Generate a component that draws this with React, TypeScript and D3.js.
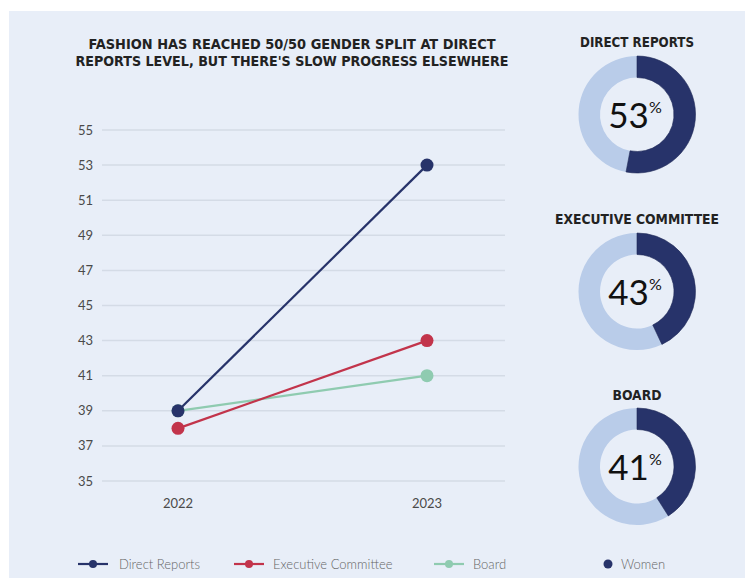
import React from "react";
import * as d3 from "d3";

const years = ["2022", "2023"];
const directReports = [39, 53];
const executiveCommittee = [38, 43];
const board = [39, 41];
const yTicks = [35, 37, 39, 41, 43, 45, 47, 49, 51, 53, 55];
const donutLabels = ["DIRECT REPORTS", "EXECUTIVE COMMITTEE", "BOARD"];
const donutValues = [53, 43, 41];
const legendLabels = ["Direct Reports", "Executive Committee", "Board", "Women"];

const W = 746;
const H = 578;
const NAVY = "#27336a";
const RED = "#c2344b";
const GREEN = "#8fcbb0";
const LIGHT = "#b9cce9";
const BG = "#e8eef8";
const GRID = "#d4dbe6";
const TEXT = "#4a4a4a";
const titleFont = "'Liberation Sans Narrow', 'DejaVu Sans Condensed', 'Roboto Condensed', sans-serif";
const bodyFont = "Lato, 'Open Sans', sans-serif";

export default function App() {
  const x = d3.scalePoint<string>().domain(years).range([178, 427]);
  const y = d3.scaleLinear().domain([35, 55]).range([481, 130]);
  const line = d3
    .line<number>()
    .x((_, i) => x(years[i]) as number)
    .y((d) => y(d));

  const series = [
    { name: legendLabels[0], values: directReports, color: NAVY },
    { name: legendLabels[1], values: executiveCommittee, color: RED },
    { name: legendLabels[2], values: board, color: GREEN },
  ];
  const drawOrder = [series[2], series[1], series[0]];

  const pie = d3.pie<number>().sort(null).value((d) => d);
  const arc = d3.arc<d3.PieArcDatum<number>>().innerRadius(37).outerRadius(58.5);
  const donutY = [114.5, 291.5, 466.5];
  const donutTitleY = [47, 224, 400];
  const donutTitleW = [114, 164, 49];
  const cx = 637;

  const legendItems = [
    { x1: 78, x2: 108, dot: 93, tx: 119, color: NAVY, line: true },
    { x1: 234, x2: 264, dot: 249, tx: 273, color: RED, line: true },
    { x1: 434, x2: 464, dot: 449, tx: 473, color: GREEN, line: true },
    { x1: 0, x2: 0, dot: 608, tx: 621, color: NAVY, line: false },
  ];

  return (
    <svg
      width={W}
      height={H}
      style={{ position: "absolute", left: 0, top: 0, background: "#ffffff" }}
    >
      <rect x={9} y={11} width={736} height={H - 11} fill={BG} />

      {/* title */}
      <text
        x={292}
        y={49}
        textAnchor="middle"
        fontFamily={titleFont}
        fontWeight="bold"
        fontSize={13.5}
        fill="#222"
        textLength={407}
        lengthAdjust="spacingAndGlyphs"
      >
        FASHION HAS REACHED 50/50 GENDER SPLIT AT DIRECT
      </text>
      <text
        x={292}
        y={66}
        textAnchor="middle"
        fontFamily={titleFont}
        fontWeight="bold"
        fontSize={13.5}
        fill="#222"
        textLength={433}
        lengthAdjust="spacingAndGlyphs"
      >
        REPORTS LEVEL, BUT THERE'S SLOW PROGRESS ELSEWHERE
      </text>

      {/* grid + y labels */}
      {yTicks.map((t) => (
        <g key={t}>
          <line x1={102} x2={505} y1={y(t)} y2={y(t)} stroke={GRID} strokeWidth={1.5} />
          <text
            x={93}
            y={y(t)}
            dy="0.35em"
            textAnchor="end"
            fontFamily={bodyFont}
            fontSize={13}
            fill={TEXT}
          >
            {t}
          </text>
        </g>
      ))}

      {/* x labels */}
      {years.map((yr) => (
        <text
          key={yr}
          x={x(yr)}
          y={508}
          textAnchor="middle"
          fontFamily={bodyFont}
          fontSize={13}
          fill={TEXT}
        >
          {yr}
        </text>
      ))}

      {/* lines */}
      {drawOrder.map((s) => (
        <g key={s.name}>
          <path d={line(s.values) || ""} fill="none" stroke={s.color} strokeWidth={2.2} />
          {s.values.map((v, i) => (
            <circle key={i} cx={x(years[i])} cy={y(v)} r={6.5} fill={s.color} />
          ))}
        </g>
      ))}

      {/* donuts */}
      {donutValues.map((v, i) => {
        const arcs = pie([v, 100 - v]);
        return (
          <g key={i}>
            <text
              x={cx}
              y={donutTitleY[i]}
              textAnchor="middle"
              fontFamily={titleFont}
              fontWeight="bold"
              fontSize={13.5}
              fill="#222"
              textLength={donutTitleW[i]}
              lengthAdjust="spacingAndGlyphs"
            >
              {donutLabels[i]}
            </text>
            <g transform={`translate(${cx},${donutY[i]})`}>
              <path d={arc(arcs[1]) || ""} fill={LIGHT} />
              <path d={arc(arcs[0]) || ""} fill={NAVY} stroke="#1d2655" strokeWidth={0.6} />
              <text
                x={-2}
                y={13}
                textAnchor="middle"
                fontFamily={bodyFont}
                fontWeight={400}
                fill="#111"
              >
                <tspan fontSize={35}>{v}</tspan>
                <tspan fontSize={16} dy={-15}>%</tspan>
              </text>
            </g>
          </g>
        );
      })}

      {/* legend */}
      {legendItems.map((it, i) => (
        <g key={i}>
          {it.line && (
            <line x1={it.x1} x2={it.x2} y1={564} y2={564} stroke={it.color} strokeWidth={2.2} />
          )}
          <circle cx={it.dot} cy={564} r={it.line ? 4 : 4.5} fill={it.color} />
          <text
            x={it.tx}
            y={564}
            dy="0.35em"
            fontFamily={bodyFont}
            fontWeight={300}
            fontSize={13}
            fill="#666"
          >
            {legendLabels[i]}
          </text>
        </g>
      ))}
    </svg>
  );
}
